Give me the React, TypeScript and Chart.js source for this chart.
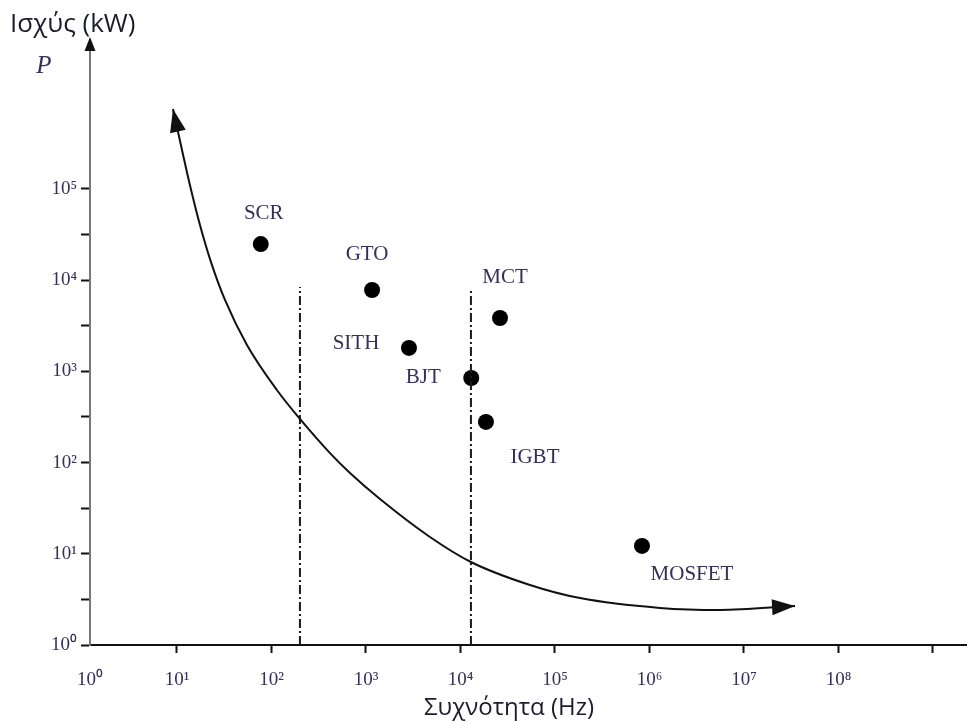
import React, { useEffect, useRef } from "react";
import { Chart, registerables } from "chart.js";

Chart.register(...registerables);

// ---- data ----
const DEVICES = ["SCR", "GTO", "SITH", "BJT", "MCT", "IGBT", "MOSFET"];
const DEVICE_FREQ = [77, 1160, 2850, 13000, 26200, 18600, 833000]; // Hz
const DEVICE_POWER = [24900, 7810, 1810, 847, 3850, 279, 12.2]; // kW

const CURVE_FREQ = [9.07, 11.0, 13.7, 17.5, 22.9, 32.2, 55, 114, 200, 416, 677, 1406, 4753, 12900, 54300, 184000, 1290000, 5570000, 34700000];
const CURVE_POWER = [753000, 303000, 110700, 40300, 15800, 6070, 1947, 625, 301, 127, 76.9, 39.9, 15.3, 8.13, 4.55, 3.27, 2.55, 2.42, 2.68];

const DIVIDER_FREQ = [200, 12900];
const DIVIDER_TOP = [8400, 7620];

const X_TICK_EXP = [0, 1, 2, 3, 4, 5, 6, 7, 8, 9];
const X_TICK_LABELS = ["10⁰", "10¹", "10²", "10³", "10⁴", "10⁵", "10⁶", "10⁷", "10⁸", ""];
const Y_TICK_EXP = [0, 0.5, 1, 1.5, 2, 2.5, 3, 3.5, 4, 4.5, 5];
const Y_TICK_LABELS = ["10⁰", "", "10¹", "", "10²", "", "10³", "", "10⁴", "", "10⁵"];

const X_MIN = Math.pow(10, 0.0794);
const X_MAX = Math.pow(10, 9.36);
const Y_MIN = 1;
const Y_MAX = Math.pow(10, 6.524);

const Y_TITLE = "Ισχύς (kW)";
const Y_SYMBOL = "P";
const X_TITLE = "Συχνότητα (Hz)";

// ---- styles ----
const LABEL_OFFSETS = [
  [3, -31],
  [-5, -35],
  [-53, -4],
  [-48, 0],
  [5, -41],
  [49, 36],
  [50, 29],
];
const TEXT_COLOR = "#34305a";
const INK = "#111111";

const overlay = {
  id: "overlay",
  afterDraw(chart: any) {
    const { ctx, chartArea, scales } = chart;
    const xs = scales.x;
    const ys = scales.y;
    ctx.save();

    // y axis arrow
    const ax = chartArea.left;
    const at = chartArea.top;
    ctx.fillStyle = INK;
    ctx.beginPath();
    ctx.moveTo(ax, at - 13);
    ctx.lineTo(ax - 5.5, at + 1);
    ctx.lineTo(ax + 5.5, at + 1);
    ctx.closePath();
    ctx.fill();

    // curve arrowheads
    const head = (tipI: number, fromI: number) => {
      const tx = xs.getPixelForValue(CURVE_FREQ[tipI]);
      const ty = ys.getPixelForValue(CURVE_POWER[tipI]);
      const fx = xs.getPixelForValue(CURVE_FREQ[fromI]);
      const fy = ys.getPixelForValue(CURVE_POWER[fromI]);
      const ang = Math.atan2(ty - fy, tx - fx);
      const L = 23;
      const W = 8;
      const bx = tx - L * Math.cos(ang);
      const by = ty - L * Math.sin(ang);
      ctx.beginPath();
      ctx.moveTo(tx, ty);
      ctx.lineTo(bx + W * Math.sin(ang), by - W * Math.cos(ang));
      ctx.lineTo(bx - W * Math.sin(ang), by + W * Math.cos(ang));
      ctx.closePath();
      ctx.fill();
    };
    head(0, 1);
    head(CURVE_FREQ.length - 1, CURVE_FREQ.length - 2);

    // device labels
    ctx.fillStyle = TEXT_COLOR;
    ctx.font = "21px 'Liberation Serif', serif";
    ctx.textAlign = "center";
    ctx.textBaseline = "middle";
    DEVICES.forEach((name, i) => {
      const px = xs.getPixelForValue(DEVICE_FREQ[i]);
      const py = ys.getPixelForValue(DEVICE_POWER[i]);
      ctx.fillText(name, px + LABEL_OFFSETS[i][0], py + LABEL_OFFSETS[i][1]);
    });

    // titles
    ctx.fillStyle = "#1c1c2c";
    ctx.font = "26px 'Open Sans', sans-serif";
    ctx.textAlign = "left";
    ctx.fillText(Y_TITLE, 10, 25);
    ctx.font = "24px 'Open Sans', sans-serif";
    ctx.textAlign = "center";
    ctx.fillText(X_TITLE, 509, 708);

    ctx.fillStyle = TEXT_COLOR;
    ctx.font = "italic 25px 'Liberation Serif', serif";
    ctx.fillText(Y_SYMBOL, 44, 66);

    ctx.restore();
  },
};

export default function App() {
  const ref = useRef<HTMLCanvasElement | null>(null);

  useEffect(() => {
    document.body.style.margin = "0";
    const canvas = ref.current;
    if (!canvas) return;

    const chart = new Chart(canvas, {
      type: "scatter",
      data: {
        datasets: [
          {
            label: "trend",
            data: CURVE_FREQ.map((f, i) => ({ x: f, y: CURVE_POWER[i] })),
            showLine: true,
            borderColor: INK,
            borderWidth: 2,
            pointRadius: 0,
            cubicInterpolationMode: "monotone",
            fill: false,
          } as any,
          ...DIVIDER_FREQ.map((f, i) => ({
            label: "divider" + i,
            data: [
              { x: f, y: Y_MIN },
              { x: f, y: DIVIDER_TOP[i] },
            ],
            showLine: true,
            borderColor: "#1a1a1a",
            borderWidth: 2,
            borderDash: [9, 3, 2, 3],
            pointRadius: 0,
          })),
          {
            label: "devices",
            data: DEVICE_FREQ.map((f, i) => ({ x: f, y: DEVICE_POWER[i] })),
            pointRadius: 8,
            pointBackgroundColor: "#000",
            pointBorderWidth: 0,
            backgroundColor: "#000",
          },
        ],
      },
      options: {
        animation: false,
        responsive: false,
        layout: { autoPadding: false, padding: { top: 50, left: 0, right: 0, bottom: 0 } },
        plugins: {
          legend: { display: false },
          tooltip: { enabled: false },
        },
        scales: {
          x: {
            type: "logarithmic",
            min: X_MIN,
            max: X_MAX,
            afterBuildTicks: (s: any) => {
              s.ticks = X_TICK_EXP.map((e) => ({ value: e === 0 ? X_MIN : Math.pow(10, e) }));
            },
            afterFit: (s: any) => {
              s.height = 77;
              s.paddingLeft = 0;
              s.paddingRight = 0;
            },
            border: { display: true, color: INK, width: 2 },
            grid: {
              drawOnChartArea: false,
              drawTicks: true,
              tickLength: 8,
              tickWidth: 2,
              tickColor: (c: any) => (c.index === 0 ? "rgba(0,0,0,0)" : INK),
            },
            ticks: {
              autoSkip: false,
              maxRotation: 0,
              padding: 16,
              color: TEXT_COLOR,
              font: { family: "'Liberation Serif', serif", size: 19 },
              callback: (_v: any, i: number) => X_TICK_LABELS[i],
            },
          },
          y: {
            type: "logarithmic",
            min: Y_MIN,
            max: Y_MAX,
            afterBuildTicks: (s: any) => {
              s.ticks = Y_TICK_EXP.map((e) => ({ value: Math.pow(10, e) }));
            },
            afterFit: (s: any) => {
              s.width = 90;
              s.paddingTop = 0;
              s.paddingBottom = 0;
            },
            border: { display: true, color: "#777777", width: 2 },
            grid: {
              drawOnChartArea: false,
              drawTicks: true,
              tickLength: 9,
              tickWidth: 2,
              tickColor: INK,
            },
            ticks: {
              autoSkip: false,
              padding: 4,
              color: TEXT_COLOR,
              font: { family: "'Liberation Serif', serif", size: 19 },
              callback: (_v: any, i: number) => Y_TICK_LABELS[i],
            },
          },
        },
      },
      plugins: [overlay],
    });

    return () => chart.destroy();
  }, []);

  return (
    <div style={{ width: 967, height: 722 }}>
      <canvas ref={ref} width={967} height={722} style={{ display: "block", width: 967, height: 722 }} />
    </div>
  );
}
